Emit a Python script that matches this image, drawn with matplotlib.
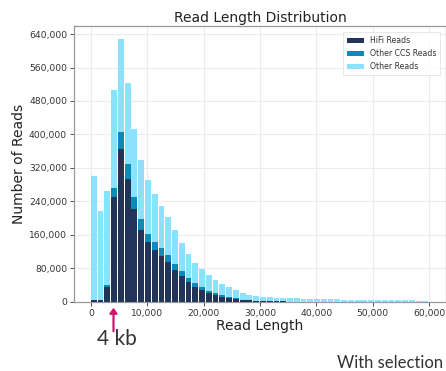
import matplotlib
matplotlib.use("Agg")
import matplotlib.pyplot as plt
from matplotlib.ticker import FuncFormatter, MultipleLocator
import numpy as np

# bin width 1200 bp, 50 bins from 0 to 60,000
bin_width = 1200
bin_starts = [i * bin_width for i in range(50)]

# counts (in reads) per bin, stacked components
hifi = [3000, 3000, 36000, 251000, 365000, 293000, 222000, 172000, 143000, 124000,
        110000, 96000, 77000, 61000, 48000, 36000, 29000, 22000, 17000, 12000,
        9000, 6000, 4000, 3000, 2000, 1500, 1000, 700, 500, 300,
        200, 150, 100, 100, 80, 60, 50, 40, 30, 30,
        20, 20, 20, 10, 10, 10, 10, 10, 10, 10]
other_ccs = [1000, 1000, 3000, 22000, 40000, 37000, 28000, 25000, 20000, 19000,
             18000, 16000, 14000, 12000, 9000, 8000, 6000, 4000, 4000, 3000,
             3000, 2000, 1000, 1000, 600, 500, 300, 200, 100, 100,
             100, 80, 60, 50, 40, 30, 30, 20, 20, 20,
             10, 10, 10, 10, 10, 10, 10, 10, 10, 10]
other = [296000, 214000, 226000, 234000, 223000, 194000, 164000, 142000, 127000, 114000,
         101000, 90000, 80000, 67000, 58000, 49000, 42000, 38000, 32000, 27000,
         22000, 19000, 16000, 13000, 11400, 10000, 9700, 9100, 8400, 8200,
         7700, 7300, 6800, 6400, 5900, 5600, 5300, 5000, 4700, 4500,
         4200, 4000, 3800, 3600, 3400, 3200, 3000, 2900, 2800, 2700]

series_labels = ["HiFi Reads", "Other CCS Reads", "Other Reads"]
series_colors = ["#22345a", "#0b8cb8", "#8ae2fe"]
x_ticks = [0, 10000, 20000, 30000, 40000, 50000, 60000]

fig = plt.figure(figsize=(4.46, 3.71), dpi=100)
ax = fig.add_axes([74 / 446, 1 - 301.7 / 371, (446 - 74) / 446, (301.7 - 25.7) / 371])

x = np.array(bin_starts)
h = np.array(hifi)
c = np.array(other_ccs)
o = np.array(other)
w = bin_width * 0.86
ax.bar(x, h, width=w, align="edge", color=series_colors[0], label=series_labels[0], zorder=3)
ax.bar(x, c, width=w, bottom=h, align="edge", color=series_colors[1], label=series_labels[1], zorder=3)
ax.bar(x, o, width=w, bottom=h + c, align="edge", color=series_colors[2], label=series_labels[2], zorder=3)

ax.set_xlim(-3000, 63000)
ax.set_ylim(0, 660000)
ax.set_xticks(x_ticks)
ax.yaxis.set_major_locator(MultipleLocator(80000))
fmt = FuncFormatter(lambda v, p: f"{int(v):,}")
ax.xaxis.set_major_formatter(fmt)
ax.yaxis.set_major_formatter(fmt)
ax.tick_params(labelsize=6.6, colors="#333333", length=3, width=0.6, pad=2)
ax.grid(True, color="#ececec", linewidth=0.8, zorder=0)
for s in ax.spines.values():
    s.set_color("#999999")
    s.set_linewidth(0.9)

ax.set_title("Read Length Distribution", fontsize=10, color="#222222", pad=3)
ax.set_xlabel("Read Length", fontsize=10, color="#222222", labelpad=1)
ax.set_ylabel("Number of Reads", fontsize=10, color="#222222", labelpad=2)

leg = ax.legend(loc="upper right", fontsize=5.6, frameon=True, borderpad=0.5,
                handlelength=2.2, handleheight=0.7, labelspacing=0.5,
                bbox_to_anchor=(0.995, 0.99))
leg.get_frame().set_edgecolor("#dddddd")
leg.get_frame().set_linewidth(0.6)
leg.get_frame().set_boxstyle("Square", pad=0)
for t in leg.get_texts():
    t.set_color("#333333")

# annotation: arrow and text in figure pixel coordinates
fig.patches.append(matplotlib.patches.FancyArrowPatch(
    (113.5 / 446, 1 - 334 / 371), (113.5 / 446, 1 - 305 / 371),
    transform=fig.transFigure, arrowstyle="-|>,head_length=3,head_width=2.2",
    color="#d4136f", linewidth=1.6, mutation_scale=1))
fig.text(97 / 446, 1 - 345 / 371, "4 kb", fontsize=15, color="#333333",
         family="Lato", ha="left", va="baseline")
fig.text(337 / 446, 1 - 368 / 371, "With selection", fontsize=12, color="#333333",
         family="Lato", ha="left", va="baseline")

fig.savefig("out.png", dpi=100)
